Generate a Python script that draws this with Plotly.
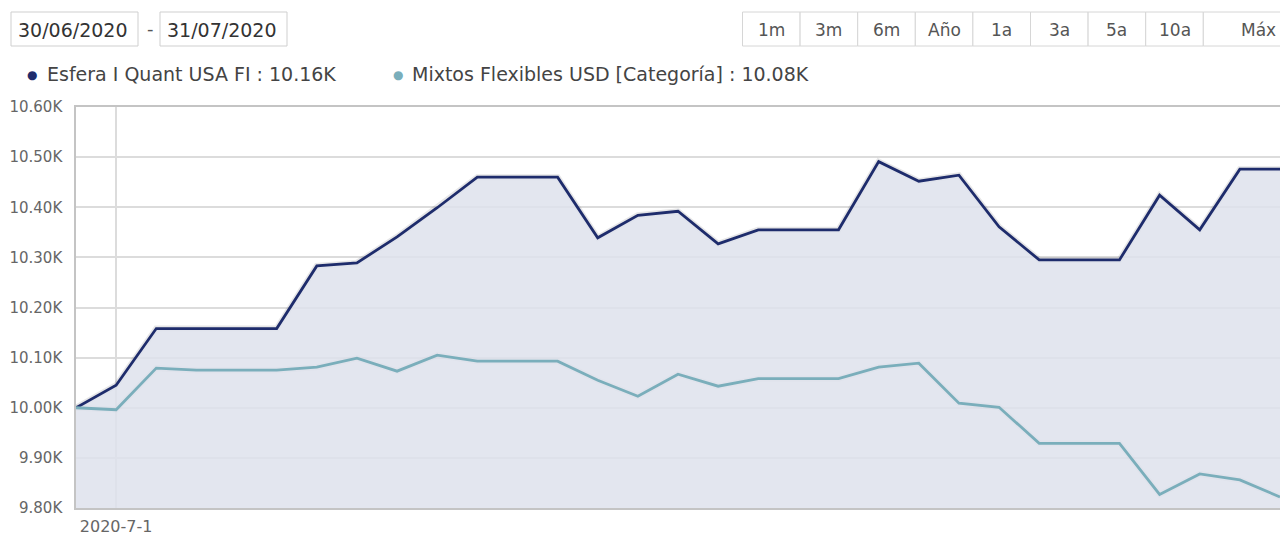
import plotly.graph_objects as go

# ---- data ----
dates = ["2020-06-30", "2020-07-01", "2020-07-02", "2020-07-03", "2020-07-04", "2020-07-05",
         "2020-07-06", "2020-07-07", "2020-07-08", "2020-07-09", "2020-07-10", "2020-07-11",
         "2020-07-12", "2020-07-13", "2020-07-14", "2020-07-15", "2020-07-16", "2020-07-17",
         "2020-07-18", "2020-07-19", "2020-07-20", "2020-07-21", "2020-07-22", "2020-07-23",
         "2020-07-24", "2020-07-25", "2020-07-26", "2020-07-27", "2020-07-28", "2020-07-29",
         "2020-07-30"]
esfera = [10.000, 10.045, 10.158, 10.158, 10.158, 10.158, 10.283, 10.289, 10.341, 10.399,
          10.460, 10.460, 10.460, 10.339, 10.384, 10.392, 10.327, 10.355, 10.355, 10.355,
          10.491, 10.452, 10.464, 10.361, 10.295, 10.295, 10.295, 10.424, 10.355, 10.476, 10.476]
mixtos = [10.000, 9.996, 10.079, 10.075, 10.075, 10.075, 10.081, 10.099, 10.073, 10.105,
          10.093, 10.093, 10.093, 10.055, 10.023, 10.067, 10.043, 10.058, 10.058, 10.058,
          10.081, 10.089, 10.009, 10.001, 9.929, 9.929, 9.929, 9.827, 9.868, 9.856, 9.822]
series_names = ["Esfera I Quant USA FI : 10.16K", "Mixtos Flexibles USD [Categoría] : 10.08K"]
y_ticks = [9.80, 9.90, 10.00, 10.10, 10.20, 10.30, 10.40, 10.50, 10.60]
y_ticktext = ["9.80K", "9.90K", "10.00K", "10.10K", "10.20K", "10.30K", "10.40K", "10.50K", "10.60K"]
x_ticks = ["2020-07-01"]
x_ticktext = ["2020-7-1"]
date_from, date_to = "30/06/2020", "31/07/2020"
buttons = ["1m", "3m", "6m", "Año", "1a", "3a", "5a", "10a", "Máx"]

# ---- style ----
NAVY = "#1e2c6c"
TEAL = "#7aaebb"
FILL = "rgba(222,226,236,0.85)"
FONT = "DejaVu Sans"
W, H = 1280, 533
PL, PR, PT, PB = 76, 1280, 107, 508


def px(x):
    return (x - PL) / (PR - PL)


def py(y):
    return (PB - y) / (PB - PT)


fig = go.Figure()
# shadows
for vals in (esfera, mixtos):
    fig.add_trace(go.Scatter(x=dates, y=vals, mode="lines", hoverinfo="skip", showlegend=False,
                             line=dict(color="rgba(60,60,70,0.13)", width=6)))
fig.add_trace(go.Scatter(x=dates, y=esfera, mode="lines", name=series_names[0], showlegend=False,
                         fill="tozeroy", fillcolor=FILL, line=dict(color=NAVY, width=2.8)))
fig.add_trace(go.Scatter(x=dates, y=mixtos, mode="lines", name=series_names[1], showlegend=False,
                         line=dict(color=TEAL, width=2.8)))

shapes = []
annotations = []
# date input boxes
for (x0, x1, txt) in [(11, 138, date_from), (160, 287, date_to)]:
    shapes.append(dict(type="rect", xref="paper", yref="paper", x0=px(x0), x1=px(x1),
                       y0=py(46), y1=py(12), line=dict(color="#cfcfcf", width=1),
                       fillcolor="white", layer="above"))
    annotations.append(dict(xref="paper", yref="paper", x=px(x0 + 5), y=py(30), text=txt,
                            showarrow=False, xanchor="left", yanchor="middle",
                            font=dict(family=FONT, size=19, color="#333333")))
annotations.append(dict(xref="paper", yref="paper", x=px(150), y=py(29), text="-",
                        showarrow=False, xanchor="center", yanchor="middle",
                        font=dict(family=FONT, size=18, color="#555555")))
# range buttons
bw = 57.6
bx0 = 742.5
for i, b in enumerate(buttons):
    x0 = bx0 + i * bw
    last = i == len(buttons) - 1
    x1 = 1300 if last else x0 + bw
    cx = 1258 if last else x0 + bw / 2
    shapes.append(dict(type="rect", xref="paper", yref="paper", x0=px(x0), x1=px(x1),
                       y0=py(46), y1=py(12), line=dict(color="#d6d6d6", width=1),
                       fillcolor="white", layer="above"))
    annotations.append(dict(xref="paper", yref="paper", x=px(cx),
                            y=py(30), text=b, showarrow=False, xanchor="center", yanchor="middle",
                            font=dict(family=FONT, size=17, color="#555555")))
# legend
for (dx, tx, col, name) in [(32, 45, NAVY, series_names[0]), (398, 410, TEAL, series_names[1])]:
    annotations.append(dict(xref="paper", yref="paper", x=px(dx), y=py(75), text="●",
                            showarrow=False, xanchor="center", yanchor="middle",
                            font=dict(family=FONT, size=12, color=col)))
    annotations.append(dict(xref="paper", yref="paper", x=px(tx), y=py(74), text=name,
                            showarrow=False, xanchor="left", yanchor="middle",
                            font=dict(family=FONT, size=19, color="#444444")))

fig.update_layout(
    width=W, height=H,
    margin=dict(l=PL, r=W - PR, t=PT, b=H - PB, autoexpand=False),
    plot_bgcolor="white", paper_bgcolor="white",
    shapes=shapes, annotations=annotations,
    showlegend=False,
    xaxis=dict(type="date", range=["2020-06-30", "2020-07-30"], tickvals=x_ticks,
               ticktext=x_ticktext, showgrid=True, gridcolor="#dcdcdc", gridwidth=1.5,
               showline=True, linecolor="#c4c4c4", linewidth=1.5, mirror=True, automargin=False,
               ticks="", tickfont=dict(family=FONT, size=16, color="#666666"), ticklabelstandoff=3),
    yaxis=dict(range=[9.80, 10.60], tickvals=y_ticks, ticktext=y_ticktext, automargin=False,
               showgrid=True, gridcolor="#dcdcdc", gridwidth=1.5, zeroline=False,
               showline=True, linecolor="#c4c4c4", linewidth=1.5,
               ticks="", tickfont=dict(family=FONT, size=15, color="#666666"), ticklabelstandoff=9),
    font=dict(family=FONT),
)

fig.write_html("out.html", config={"displayModeBar": False},
               post_script="document.body.style.margin='0';document.body.style.overflow='hidden';")
